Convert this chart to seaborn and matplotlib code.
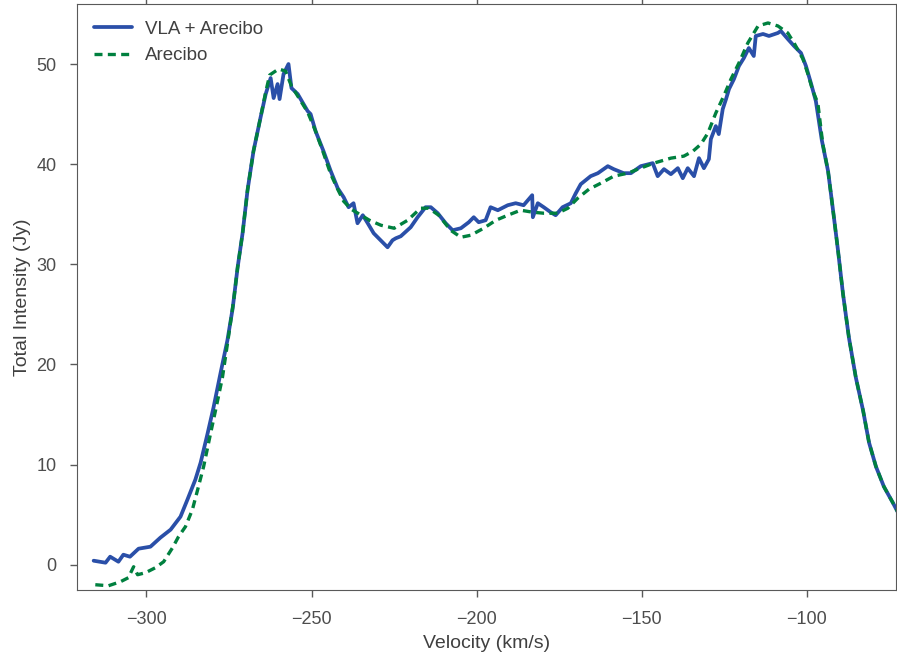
import matplotlib
matplotlib.use('Agg')
import matplotlib.pyplot as plt
import seaborn as sns
import numpy as np

# VLA + Arecibo combined spectrum (velocity km/s, intensity Jy)
vla_vel = [-316.0, -312.4, -311.0, -308.5, -307.0, -305.0, -302.4, -298.8, -295.8, -292.7,
           -289.7, -287.6, -285.2, -283.6, -281.5, -279.7, -277.6, -275.5, -273.9, -272.4,
           -270.9, -269.4, -267.6, -265.5, -263.9, -262.4, -261.5, -260.3, -259.7, -258.5,
           -257.0, -256.1, -254.2, -251.2, -250.3, -248.8, -246.4, -244.2, -242.1, -240.3,
           -238.8, -237.3, -236.1, -234.5, -233.0, -231.2, -229.1, -227.0, -225.5, -224.5,
           -223.0, -220.0, -217.9, -215.5, -213.9, -211.8, -209.4, -207.3, -204.8, -202.4,
           -200.9, -199.4, -197.3, -195.8, -193.6, -190.6, -188.2, -185.8, -183.2, -183.0,
           -181.5, -179.7, -177.6, -176.1, -174.0, -171.5, -170.0, -168.5, -165.5, -163.3,
           -160.3, -158.5, -155.5, -153.3, -150.3, -146.7, -145.2, -143.3, -141.2, -139.1,
           -137.6, -136.1, -134.2, -132.7, -131.2, -129.7, -129.1, -127.6, -126.7, -125.5,
           -124.5, -123.6, -122.1, -120.6, -119.1, -117.6, -116.1, -115.5, -113.3, -111.5,
           -108.8, -107.9, -105.8, -103.9, -101.8, -100.3, -98.8, -97.3, -95.5, -93.6,
           -92.1, -90.6, -89.1, -87.3, -85.2, -83.0, -81.2, -79.1, -76.7, -74.0, -72.4]
vla_flux = [0.4, 0.2, 0.8, 0.3, 1.0, 0.8, 1.6, 1.8, 2.7, 3.5,
            4.8, 6.5, 8.5, 10.2, 13.1, 15.7, 19.1, 22.4, 25.6, 29.7,
            33.1, 37.4, 41.3, 44.6, 47.0, 48.6, 46.6, 48.0, 46.5, 49.0,
            50.0, 47.6, 47.0, 45.3, 45.0, 43.3, 41.3, 39.3, 37.6, 36.7,
            35.7, 36.1, 34.1, 34.9, 34.1, 33.1, 32.4, 31.7, 32.4, 32.6,
            32.8, 33.7, 34.7, 35.7, 35.7, 35.1, 34.1, 33.4, 33.6, 34.2,
            34.7, 34.2, 34.4, 35.7, 35.4, 35.9, 36.1, 35.9, 36.9, 34.7,
            36.1, 35.7, 35.2, 34.9, 35.7, 36.1, 37.1, 38.0, 38.8, 39.1,
            39.8, 39.5, 39.1, 39.1, 39.8, 40.1, 38.8, 39.5, 39.0, 39.6,
            38.6, 39.6, 38.8, 40.6, 39.6, 40.5, 42.5, 43.8, 43.0, 45.5,
            46.5, 47.5, 48.5, 49.8, 50.6, 51.6, 50.8, 52.8, 53.0, 52.8,
            53.1, 53.3, 52.5, 51.8, 51.1, 49.8, 48.1, 46.3, 42.4, 39.3,
            35.4, 31.4, 27.1, 22.7, 18.7, 15.4, 12.2, 9.8, 7.8, 6.2, 5.2]

# Arecibo single-dish spectrum
are_vel = [-315.5, -311.5, -307.9, -305.5, -303.9, -302.7, -300.3, -297.3, -294.8, -292.1,
           -290.3, -288.2, -286.1, -284.5, -282.7, -280.6, -279.1, -277.0, -275.2, -273.6,
           -272.4, -270.9, -269.4, -267.6, -265.5, -263.9, -262.7, -260.0, -257.9, -256.1,
           -254.2, -251.2, -248.8, -246.4, -244.2, -242.1, -240.3, -238.0, -236.0, -232.5,
           -229.0, -225.0, -220.9, -217.0, -214.5, -211.5, -207.9, -204.8, -201.8, -197.9,
           -194.2, -190.6, -186.7, -183.0, -179.7, -175.5, -172.4, -169.4, -166.0, -162.4,
           -158.5, -154.2, -151.2, -146.4, -141.2, -137.3, -134.5, -132.1, -130.0, -127.6,
           -125.2, -123.0, -120.6, -117.9, -114.8, -111.8, -108.8, -105.8, -103.9, -101.2,
           -99.7, -98.2, -96.7, -95.2, -93.6, -92.1, -90.6, -89.1, -87.3, -85.2,
           -83.0, -81.2, -79.1, -76.7, -74.0, -72.4]
are_flux = [-2.0, -2.1, -1.7, -1.3, -0.2, -1.0, -0.8, -0.3, 0.3, 1.7,
            2.8, 3.8, 5.5, 7.5, 9.8, 13.1, 15.4, 18.7, 22.7, 26.4,
            29.7, 33.1, 37.4, 41.3, 44.6, 47.2, 48.9, 49.5, 49.3, 47.8,
            46.8, 45.2, 43.3, 41.1, 39.0, 37.5, 36.3, 35.5, 35.1, 34.4,
            33.9, 33.6, 34.4, 35.6, 35.6, 34.9, 33.4, 32.7, 32.9, 33.6,
            34.4, 34.9, 35.4, 35.2, 35.1, 35.1, 35.6, 36.6, 37.5, 38.1,
            38.8, 39.1, 39.5, 40.1, 40.6, 40.8, 41.3, 42.0, 43.1, 45.1,
            46.8, 48.5, 50.1, 52.1, 53.8, 54.1, 53.8, 53.1, 52.1, 50.5,
            49.0, 47.3, 46.1, 42.0, 39.3, 35.4, 31.4, 27.1, 22.7, 18.7,
            15.4, 12.2, 9.8, 7.8, 6.2, 5.2]

sns.set_style('ticks', {'axes.edgecolor': '.35', 'xtick.color': '.35', 'ytick.color': '.35',
                        'text.color': '.25', 'axes.labelcolor': '.25'})
plt.rcParams['font.family'] = ['Liberation Sans', 'DejaVu Sans']

fig, ax = plt.subplots(figsize=(8.97, 6.56), dpi=100)
fig.subplots_adjust(left=0.086, right=0.999, top=0.994, bottom=0.101)

sns.lineplot(x=vla_vel, y=vla_flux, ax=ax, color='#2a4fa8', lw=2.7, label='VLA + Arecibo')
sns.lineplot(x=are_vel, y=are_flux, ax=ax, color='#00803f', lw=2.4,
             linestyle=(0, (2.4, 1.6)), label='Arecibo')

ax.set_xlim(-321, -73)
ax.set_ylim(-2.5, 56)
ax.set_xticks([-300, -250, -200, -150, -100])
ax.set_yticks([0, 10, 20, 30, 40, 50])
ax.tick_params(top=True, right=True, labelsize=13, length=5, width=1, pad=10, labelcolor='.3')
ax.set_xlabel('Velocity (km/s)', fontsize=14, labelpad=5)
ax.set_ylabel('Total Intensity (Jy)', fontsize=14, labelpad=4)
ax.legend(loc='upper left', frameon=False, fontsize=13.5, handlelength=2.0,
          handletextpad=0.7, borderaxespad=0.5)

fig.savefig('out.png', dpi=100)
